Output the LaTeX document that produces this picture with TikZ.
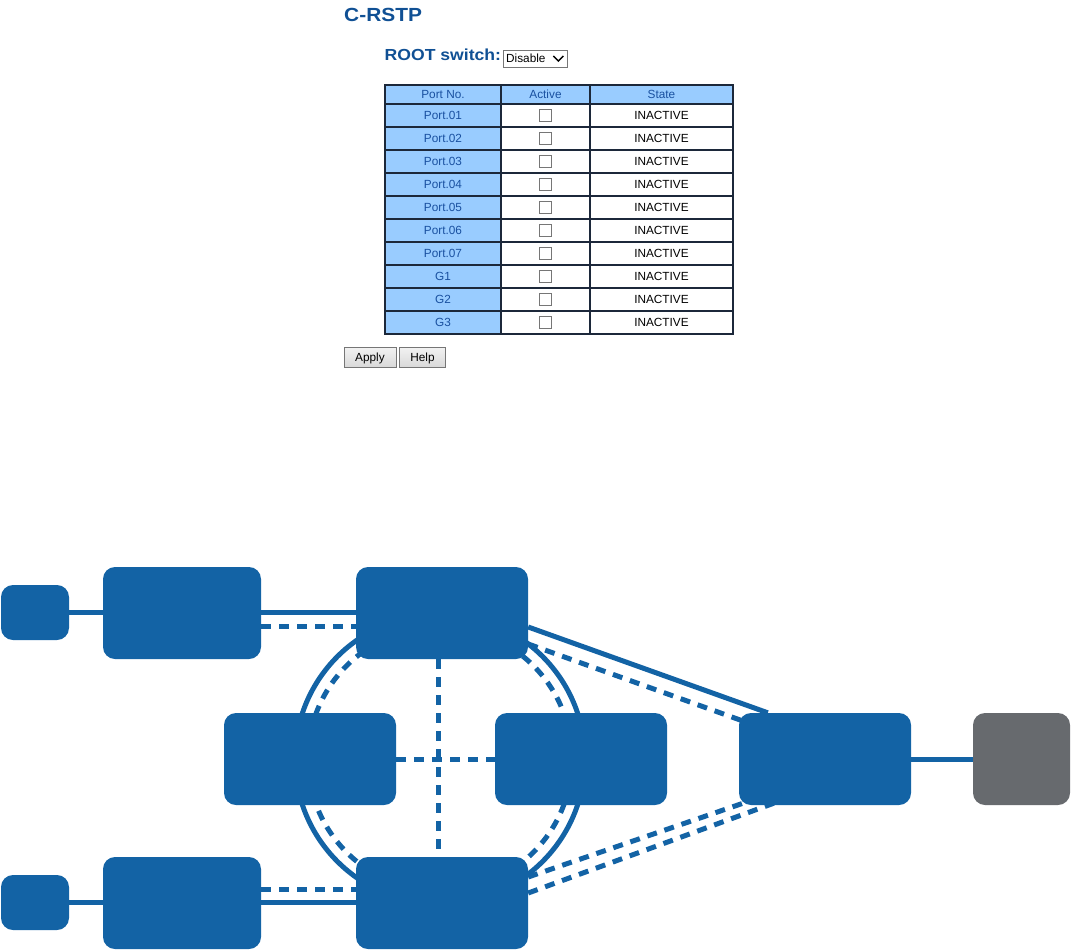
\documentclass[tikz,border=0pt]{standalone}
\usepackage{fontspec}
\setmainfont{Liberation Sans}
\newfontfamily\headfont{Liberation Sans}[FakeStretch=1.1]
\usetikzlibrary{backgrounds}
\definecolor{netblue}{RGB}{19,99,165}
\definecolor{netgrey}{RGB}{103,106,110}
\definecolor{headblue}{RGB}{16,80,148}
\definecolor{cellblue}{RGB}{153,204,255}
\definecolor{gridline}{RGB}{28,40,58}
\definecolor{porttext}{RGB}{25,80,160}
\definecolor{ctlgrey}{RGB}{118,118,118}
\begin{document}
\begin{tikzpicture}[x=1pt,y=-1pt,
  headtext/.style={inner sep=0pt,text=headblue},
  cellbase/.style={draw=gridline,line width=1.5pt,minimum height=23pt,inner sep=0pt,
     font=\fontsize{11.8}{13}\selectfont,text height=8.4pt,text depth=0pt},
  portcell/.style={cellbase,fill=cellblue,text=porttext,minimum width=116pt},
  headcell/.style={cellbase,fill=cellblue,text=porttext,minimum height=19pt},
  whitecell/.style={cellbase,fill=white,text=black},
  chk/.style={draw=ctlgrey,line width=0.8pt,fill=white,minimum width=12pt,minimum height=12pt,inner sep=0pt},
  btn/.style={draw=ctlgrey,line width=0.8pt,top color=white!95!black,bottom color=white!85!black,
     minimum height=20pt,inner sep=0pt,font=\fontsize{11.8}{13}\selectfont,text height=8.4pt,text depth=0pt},
  netbox/.style={fill=netblue,rounded corners=12pt,inner sep=0pt,minimum width=172pt,minimum height=92pt},
  link/.style={draw=netblue,line width=5pt},
  dlink/.style={link,dash pattern=on 10pt off 8pt}]
\useasboundingbox (0,0) rectangle (1071,950);
% ---------- web form ----------
\node[headtext,anchor=base west,font=\headfont\bfseries\fontsize{19}{21}\selectfont] (title) at (344,21.5) {C-RSTP};
\node[headtext,anchor=base west,font=\headfont\bfseries\fontsize{16}{18}\selectfont] (rootlbl) at (384.5,60) {ROOT switch:};
\node[draw=ctlgrey,line width=0.8pt,fill=white,minimum width=64pt,minimum height=17pt,inner sep=0pt] (dd) at (535,58.5) {};
\node[anchor=west,inner sep=0pt,font=\fontsize{11.8}{13}\selectfont,text height=8.4pt,text depth=0pt] (ddtext) at (506,58.5) {Disable};
\draw[line width=1.5pt,line join=miter] ([xshift=-14pt,yshift=2.5pt]dd.east) -- ([xshift=-9pt,yshift=-2.5pt]dd.east) -- ([xshift=-4pt,yshift=2.5pt]dd.east);
% table header
\node[headcell,minimum width=116pt] (hp) at (443,94.5) {Port No.};
\node[headcell,minimum width=89pt] (ha) at (545.5,94.5) {Active};
\node[headcell,minimum width=143pt] (hs) at (661.5,94.5) {State};
\foreach \lab [count=\i] in {Port.01,Port.02,Port.03,Port.04,Port.05,Port.06,Port.07,G1,G2,G3} {
  \pgfmathsetmacro\yy{92.5+23*\i}
  \node[portcell] (p\i) at (443,\yy) {\lab};
  \node[whitecell,minimum width=89pt] (a\i) at (545.5,\yy) {};
  \node[chk] (c\i) at (545,\yy) {};
  \node[whitecell,minimum width=143pt] (s\i) at (661.5,\yy) {INACTIVE};
}
\node[btn,minimum width=52pt] (apply) at (370,357) {Apply};
\node[btn,minimum width=46pt] (help) at (422.5,357) {Help};
% ---------- network diagram ----------
\node[netbox,minimum width=68pt,minimum height=55pt] (s1) at (35,612.5) {};
\node[netbox,minimum width=158pt] (A) at (182,613) {};
\node[netbox] (T) at (442,613) {};
\node[netbox] (L) at (310,759) {};
\node[netbox] (R) at (581,759) {};
\node[netbox] (E) at (825,759) {};
\node[netbox,fill=netgrey,minimum width=97pt] (G) at (1021.5,759) {};
\node[netbox,minimum width=158pt] (B) at (182,903) {};
\node[netbox] (D) at (442,903) {};
\node[netbox,minimum width=68pt,minimum height=55pt] (s2) at (35,902.5) {};
\coordinate (ring) at (440,759);
\begin{scope}[on background layer]
  \draw[link] (ring) circle[radius=145pt];
  \draw[dlink] (ring) circle[radius=132pt];
  \draw[link] (s1.east) -- ([yshift=0.5pt]A.west);
  \draw[link] ([yshift=1pt]A.east) -- ([yshift=1pt]T.west);
  \draw[dlink] ([yshift=-13pt]A.east) -- ([yshift=-13pt]T.west);
  \draw[link] (s2.east) -- ([yshift=0.5pt]B.west);
  \draw[dlink] ([yshift=14pt]B.east) -- ([yshift=14pt]D.west);
  \draw[link] ([yshift=1pt]B.east) -- ([yshift=1pt]D.west);
  \draw[link] (E.east) -- (G.west);
  \draw[dlink] ([xshift=-4pt]T.south) -- ([xshift=-4pt]D.north);
  \draw[dlink] (L.east) -- (R.west);
  \draw[link] ([yshift=-14pt]T.east) -- ([xshift=29pt]E.north west);
  \draw[dlink] ([yshift=-31pt]T.east) -- ([xshift=12pt,yshift=-11pt]E.north west);
  \draw[dlink] ([yshift=26pt]D.east) -- ([xshift=13pt,yshift=5pt]E.south west);
  \draw[dlink] ([yshift=10pt]D.east) -- ([xshift=35pt,yshift=2pt]E.south west);
\end{scope}
\end{tikzpicture}
\end{document}
